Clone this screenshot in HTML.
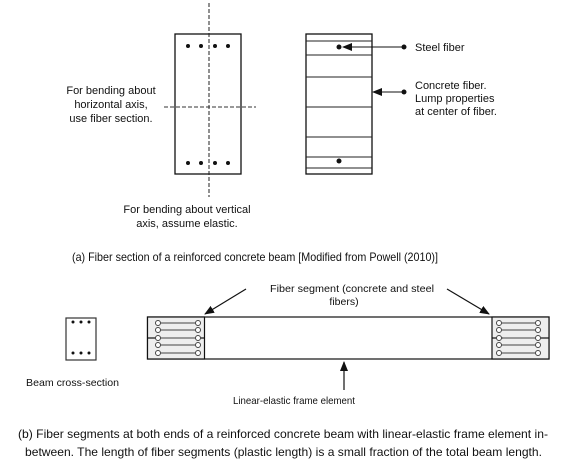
<!DOCTYPE html>
<html><head><meta charset="utf-8"><style>
html,body{margin:0;padding:0;background:#fff;}
svg{display:block;}
text{font-family:"Liberation Sans",Arial,sans-serif;fill:#111;}
</style></head><body>
<svg width="579" height="467" viewBox="0 0 579 467" xmlns="http://www.w3.org/2000/svg">
<defs>
<marker id="ah" markerWidth="10" markerHeight="8" refX="9" refY="4" orient="auto" markerUnits="userSpaceOnUse"><path d="M0,0 L10,4 L0,8 z" fill="#111"/></marker>
</defs>
<rect x="175" y="34" width="66" height="140" fill="none" stroke="#111" stroke-width="1.3"/>
<line x1="209" y1="3" x2="209" y2="197" stroke="#222" stroke-width="1" stroke-dasharray="4,2"/>
<line x1="164" y1="107" x2="256" y2="107" stroke="#333" stroke-width="1" stroke-dasharray="4,2"/>
<g fill="#111">
<circle cx="188" cy="46" r="2"/><circle cx="201" cy="46" r="2"/><circle cx="215" cy="46" r="2"/><circle cx="228" cy="46" r="2"/>
<circle cx="188" cy="163" r="2"/><circle cx="201" cy="163" r="2"/><circle cx="215" cy="163" r="2"/><circle cx="228" cy="163" r="2"/>
</g>
<g font-size="11" text-anchor="middle">
<text x="111" y="94">For bending about</text>
<text x="111" y="108">horizontal axis,</text>
<text x="111" y="122">use fiber section.</text>
<text x="187" y="213">For bending about vertical</text>
<text x="187" y="227">axis, assume elastic.</text>
</g>
<rect x="306" y="34" width="66" height="140" fill="none" stroke="#111" stroke-width="1.3"/>
<g stroke="#222" stroke-width="0.9">
<line x1="306" y1="41" x2="372" y2="41"/><line x1="306" y1="55" x2="372" y2="55"/>
<line x1="306" y1="77" x2="372" y2="77"/><line x1="306" y1="107" x2="372" y2="107"/>
<line x1="306" y1="137" x2="372" y2="137"/><line x1="306" y1="157" x2="372" y2="157"/>
<line x1="306" y1="168" x2="372" y2="168"/>
</g>
<circle cx="339" cy="47" r="2.5" fill="#111"/>
<circle cx="339" cy="161" r="2.5" fill="#111"/>
<line x1="404" y1="47" x2="343" y2="47" stroke="#111" stroke-width="1" marker-end="url(#ah)"/>
<circle cx="404" cy="47" r="2.5" fill="#111"/>
<line x1="404" y1="92" x2="373" y2="92" stroke="#111" stroke-width="1" marker-end="url(#ah)"/>
<circle cx="404" cy="92" r="2.5" fill="#111"/>
<g font-size="11">
<text x="415" y="51">Steel fiber</text>
<text x="415" y="89">Concrete fiber.</text>
<text x="415" y="102">Lump properties</text>
<text x="415" y="115">at center of fiber.</text>
</g>
<text x="72" y="261" font-size="12" textLength="366" lengthAdjust="spacingAndGlyphs">(a) Fiber section of a reinforced concrete beam [Modified from Powell (2010)]</text>
<rect x="66" y="318" width="30" height="42" fill="none" stroke="#333" stroke-width="1.2"/>
<g fill="#111"><circle cx="73" cy="322" r="1.5"/><circle cx="81" cy="322" r="1.5"/><circle cx="89" cy="322" r="1.5"/>
<circle cx="73" cy="353" r="1.5"/><circle cx="81" cy="353" r="1.5"/><circle cx="89" cy="353" r="1.5"/></g>
<text x="26" y="386" font-size="10.5" textLength="93" lengthAdjust="spacingAndGlyphs">Beam cross-section</text>
<rect x="147.5" y="317" width="401.5" height="42" fill="#fff" stroke="#111" stroke-width="1.2"/>
<g>
<rect x="147.5" y="317" width="57" height="42" fill="#eee" stroke="#111" stroke-width="1.2"/>
<rect x="492" y="317" width="57" height="42" fill="#eee" stroke="#111" stroke-width="1.2"/>
<line x1="147" y1="338" x2="160" y2="338" stroke="#111" stroke-width="1.2"/>
<line x1="196" y1="338" x2="205" y2="338" stroke="#111" stroke-width="1.2"/>
<line x1="492" y1="338" x2="503" y2="338" stroke="#111" stroke-width="1.2"/>
<line x1="540" y1="338" x2="549" y2="338" stroke="#111" stroke-width="1.2"/>
<g stroke="#444" stroke-width="1" fill="#fff">
<line x1="158" y1="323" x2="198" y2="323"/><line x1="158" y1="330" x2="198" y2="330"/><line x1="158" y1="338" x2="198" y2="338"/><line x1="158" y1="345" x2="198" y2="345"/><line x1="158" y1="353" x2="198" y2="353"/>
<line x1="499" y1="323" x2="538" y2="323"/><line x1="499" y1="330" x2="538" y2="330"/><line x1="499" y1="338" x2="538" y2="338"/><line x1="499" y1="345" x2="538" y2="345"/><line x1="499" y1="353" x2="538" y2="353"/>
<circle cx="158" cy="323" r="2.5"/><circle cx="158" cy="330" r="2.5"/><circle cx="158" cy="338" r="2.5"/><circle cx="158" cy="345" r="2.5"/><circle cx="158" cy="353" r="2.5"/>
<circle cx="198" cy="323" r="2.5"/><circle cx="198" cy="330" r="2.5"/><circle cx="198" cy="338" r="2.5"/><circle cx="198" cy="345" r="2.5"/><circle cx="198" cy="353" r="2.5"/>
<circle cx="499" cy="323" r="2.5"/><circle cx="499" cy="330" r="2.5"/><circle cx="499" cy="338" r="2.5"/><circle cx="499" cy="345" r="2.5"/><circle cx="499" cy="353" r="2.5"/>
<circle cx="538" cy="323" r="2.5"/><circle cx="538" cy="330" r="2.5"/><circle cx="538" cy="338" r="2.5"/><circle cx="538" cy="345" r="2.5"/><circle cx="538" cy="353" r="2.5"/>
</g>
</g>
<line x1="246" y1="289" x2="205" y2="314" stroke="#111" stroke-width="1.2" marker-end="url(#ah)"/>
<line x1="447" y1="289" x2="489" y2="314" stroke="#111" stroke-width="1.2" marker-end="url(#ah)"/>
<line x1="344" y1="390" x2="344" y2="362" stroke="#111" stroke-width="1.2" marker-end="url(#ah)"/>
<text x="270" y="292" font-size="10.5" textLength="164" lengthAdjust="spacingAndGlyphs">Fiber segment (concrete and steel</text>
<text x="344" y="305" font-size="10.5" text-anchor="middle">fibers)</text>
<text x="233" y="404" font-size="10.5" textLength="122" lengthAdjust="spacingAndGlyphs">Linear-elastic frame element</text>
<text x="18" y="438" font-size="12" textLength="530" lengthAdjust="spacingAndGlyphs">(b) Fiber segments at both ends of a reinforced concrete beam with linear-elastic frame element in-</text>
<text x="25" y="456" font-size="12" textLength="517" lengthAdjust="spacingAndGlyphs">between. The length of fiber segments (plastic length) is a small fraction of the total beam length.</text>
</svg>
</body></html>
